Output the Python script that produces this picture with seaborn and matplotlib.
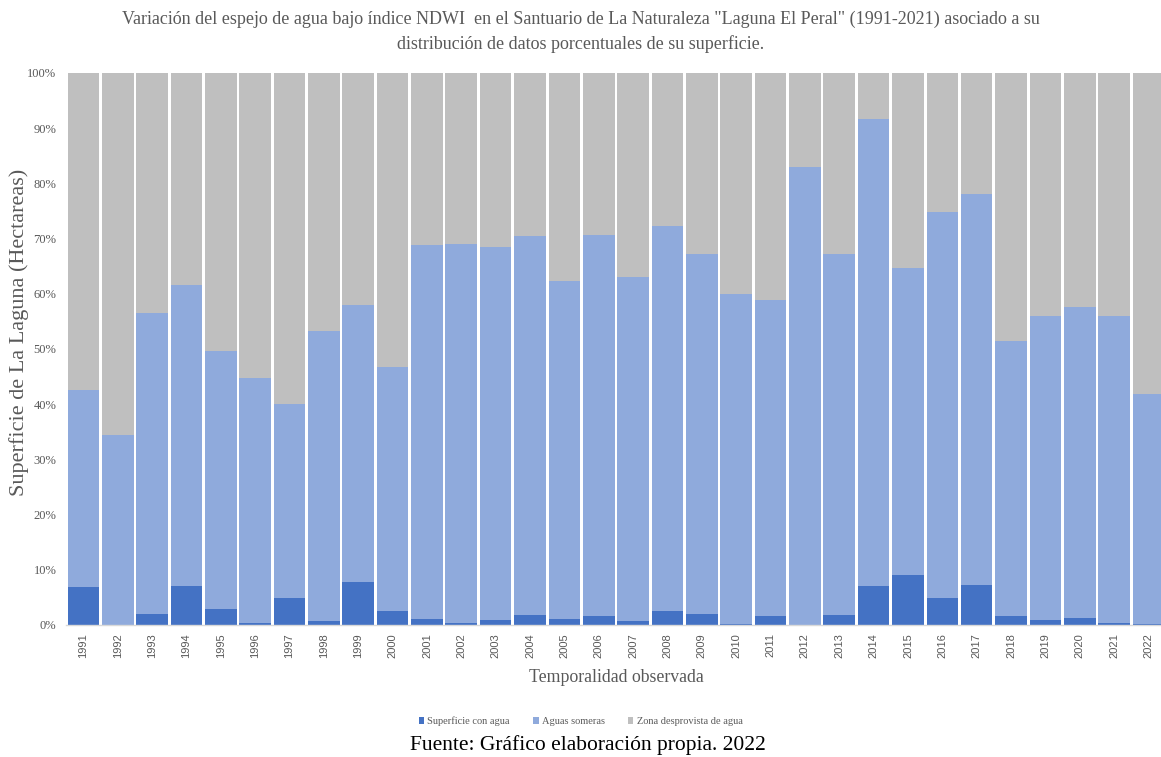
import numpy as np
import pandas as pd
import matplotlib
matplotlib.use("Agg")
import matplotlib.pyplot as plt
import seaborn as sns
from matplotlib.ticker import PercentFormatter
from matplotlib.patches import Patch

years = [str(y) for y in range(1991, 2023)]

# Percentage of the lagoon surface per class
superficie_con_agua = [6.8, 0.0, 2.0, 7.1, 2.9, 0.4, 4.9, 0.7, 7.7, 2.5,
                       1.1, 0.4, 0.85, 1.8, 1.1, 1.6, 0.7, 2.5, 2.0, 0.25,
                       1.6, 0.0, 1.8, 7.1, 9.1, 4.9, 7.3, 1.6, 0.85, 1.3,
                       0.4, 0.25]
# Water surface + shallow water (cumulative top of the blue part)
agua_total = [42.5, 34.5, 56.5, 61.5, 49.7, 44.8, 40.0, 53.3, 58.0, 46.8,
              68.8, 69.0, 68.5, 70.4, 62.3, 70.6, 63.0, 72.2, 67.2, 59.9,
              58.9, 83.0, 67.2, 91.6, 64.7, 74.8, 78.1, 51.4, 56.0, 57.6,
              56.0, 41.8]
aguas_someras = [t - s for t, s in zip(agua_total, superficie_con_agua)]
zona_desprovista = [100 - t for t in agua_total]

labels = ["Superficie con agua", "Aguas someras", "Zona desprovista de agua"]
colors = ["#4472C4", "#8FAADC", "#BFBFBF"]

df = pd.DataFrame({
    "year": years,
    "dark": superficie_con_agua,
    "light": aguas_someras,
    "grey": zona_desprovista,
})
df["cum_dark"] = df["dark"]
df["cum_light"] = df["dark"] + df["light"]
df["cum_grey"] = df["cum_light"] + df["grey"]

sns.set_theme(style="white")
serif = ["Liberation Serif", "DejaVu Serif"]
plt.rcParams["font.family"] = serif

fig = plt.figure(figsize=(11.61, 7.57), dpi=100)
ax = fig.add_axes([0.057, 0.1744, 0.947, 0.7292])

# Stacked bars drawn back to front from cumulative totals
for col, c in zip(["cum_grey", "cum_light", "cum_dark"], colors[::-1]):
    sns.barplot(data=df, x="year", y=col, color=c, width=0.92,
                saturation=1, ax=ax, linewidth=0, order=years)

ax.set_xlim(-0.5, 31.5)
ax.set_ylim(0, 100)
ax.yaxis.set_major_locator(plt.MultipleLocator(10))
ax.yaxis.set_major_formatter(PercentFormatter(decimals=0))
for s in ["top", "right", "left"]:
    ax.spines[s].set_visible(False)
ax.spines["bottom"].set_color("#D9D9D9")
ax.spines["bottom"].set_linewidth(1.0)
ax.tick_params(axis="y", length=0, labelsize=9, colors="#595959", pad=7)
ax.tick_params(axis="x", length=0, labelsize=8, colors="#595959", pad=6)
for t in ax.get_xticklabels():
    t.set_rotation(90)
    t.set_family(["Liberation Sans", "DejaVu Sans"])

ax.set_xlabel("Temporalidad observada", fontsize=12.8, color="#595959", labelpad=8)
ax.set_ylabel("Superficie de La Laguna (Hectareas)", fontsize=16,
              color="#595959")
ax.yaxis.set_label_coords(-0.0335, 0.53)

fig.text(0.5, 0.986,
         'Variación del espejo de agua bajo índice NDWI  en el Santuario de La Naturaleza "Laguna El Peral" (1991-2021) asociado a su\ndistribución de datos porcentuales de su superficie.',
         ha="center", va="top", fontsize=13, color="#595959",
         linespacing=1.55)

handles = [Patch(facecolor=c, edgecolor="none") for c in colors]
fig.legend(handles, labels, loc="center", bbox_to_anchor=(0.5, 0.047),
           ncol=3, frameon=False, fontsize=7.5, handlelength=0.55,
           handleheight=0.7, handletextpad=0.3, columnspacing=2.2,
           labelcolor="#595959")

fig.text(0.506, 0.016, "Fuente: Gráfico elaboración propia. 2022",
         ha="center", va="center", fontsize=15.5, color="black")

fig.savefig("out.png", dpi=100)
